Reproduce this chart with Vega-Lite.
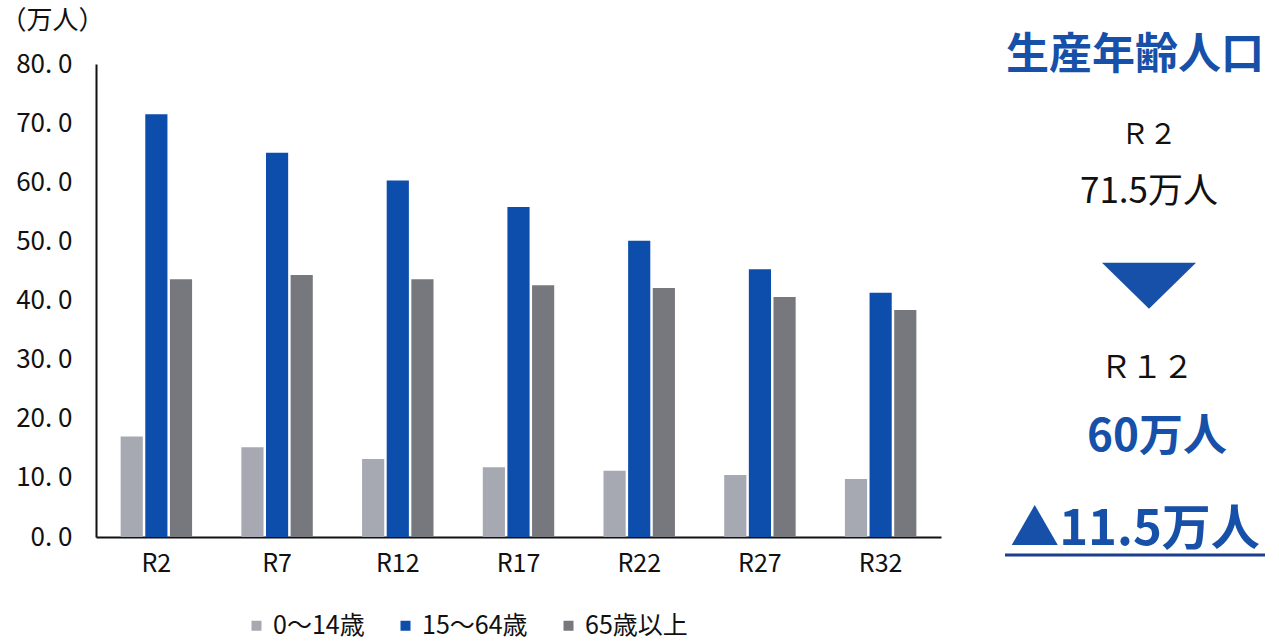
{
  "$schema": "https://vega.github.io/schema/vega-lite/v6.json",
  "background": "white",
  "padding": {"left": 0, "top": 7, "right": 5, "bottom": 3},
  "config": {"view": {"stroke": null}, "font": "Noto Sans CJK JP"},
  "spacing": 62,
  "datasets": {
    "pop": [
      {"year": "R2", "group": "0～14歳", "value": 17.0},
      {"year": "R2", "group": "15～64歳", "value": 71.5},
      {"year": "R2", "group": "65歳以上", "value": 43.6},
      {"year": "R7", "group": "0～14歳", "value": 15.2},
      {"year": "R7", "group": "15～64歳", "value": 65.0},
      {"year": "R7", "group": "65歳以上", "value": 44.3},
      {"year": "R12", "group": "0～14歳", "value": 13.2},
      {"year": "R12", "group": "15～64歳", "value": 60.3},
      {"year": "R12", "group": "65歳以上", "value": 43.6},
      {"year": "R17", "group": "0～14歳", "value": 11.8},
      {"year": "R17", "group": "15～64歳", "value": 55.8},
      {"year": "R17", "group": "65歳以上", "value": 42.6},
      {"year": "R22", "group": "0～14歳", "value": 11.2},
      {"year": "R22", "group": "15～64歳", "value": 50.1},
      {"year": "R22", "group": "65歳以上", "value": 42.1},
      {"year": "R27", "group": "0～14歳", "value": 10.5},
      {"year": "R27", "group": "15～64歳", "value": 45.3},
      {"year": "R27", "group": "65歳以上", "value": 40.6},
      {"year": "R32", "group": "0～14歳", "value": 9.8},
      {"year": "R32", "group": "15～64歳", "value": 41.3},
      {"year": "R32", "group": "65歳以上", "value": 38.4}
    ],
    "panel": [
      {"item": "title", "label": "生産年齢人口"},
      {"item": "r2", "label": "Ｒ２"},
      {"item": "v2", "label": "71.5万人"},
      {"item": "tri", "label": ""},
      {"item": "r12", "label": "Ｒ１２"},
      {"item": "v12", "label": "60万人"},
      {"item": "diff", "label": "▲11.5万人"},
      {"item": "line", "label": ""}
    ]
  },
  "hconcat": [
    {
      "width": 845,
      "height": 473,
      "data": {"name": "pop"},
      "mark": {"type": "bar"},
      "encoding": {
        "x": {
          "field": "year", "type": "nominal",
          "sort": ["R2", "R7", "R12", "R17", "R22", "R27", "R32"],
          "scale": {"paddingInner": 0, "paddingOuter": 0},
          "axis": {
            "title": null, "labelAngle": 0, "ticks": false,
            "labelFontSize": 25, "labelPadding": 14, "labelColor": "#111",
            "domainColor": "#111", "domainWidth": 2
          }
        },
        "xOffset": {
          "field": "group", "type": "nominal",
          "sort": ["0～14歳", "15～64歳", "65歳以上"],
          "scale": {"paddingInner": 0.1, "paddingOuter": 1.0}
        },
        "y": {
          "field": "value", "type": "quantitative",
          "scale": {"domain": [0, 80], "nice": false},
          "axis": {
            "values": [0, 10, 20, 30, 40, 50, 60, 70, 80],
            "labelExpr": "replace(format(datum.value, '.1f'), '.', '. ')",
            "grid": false, "ticks": false,
            "labelFontSize": 26, "labelPadding": 24, "labelColor": "#111",
            "domainColor": "#111", "domainWidth": 2,
            "title": "（万人）", "titleAngle": 0, "titleFontSize": 26,
            "titleFontWeight": "normal", "titleColor": "#111",
            "titleAlign": "left", "titleBaseline": "middle",
            "titleX": -96, "titleY": -44
          }
        },
        "color": {
          "field": "group", "type": "nominal",
          "scale": {
            "domain": ["0～14歳", "15～64歳", "65歳以上"],
            "range": ["#a6a9b1", "#0d4dab", "#77787d"]
          },
          "legend": {
            "title": null, "orient": "none", "direction": "horizontal",
            "legendX": 148, "legendY": 549,
            "symbolType": "square", "symbolSize": 100,
            "labelFontSize": 25, "labelColor": "#111",
            "columnPadding": 28, "labelOffset": 4
          }
        }
      }
    },
    {
      "width": 260,
      "height": 501,
      "data": {"name": "panel"},
      "encoding": {
        "y": {
          "field": "item", "type": "ordinal",
          "scale": {"type": "point", "padding": 0,
            "domain": ["title", "r2", "v2", "tri", "r12", "v12", "diff", "line"]},
          "axis": null
        }
      },
      "layer": [
        {
          "transform": [{"filter": "datum.item == 'title'"}],
          "mark": {"type": "text", "fontSize": 43, "fontWeight": "bold", "color": "#1650a8", "baseline": "middle", "dy": -8},
          "encoding": {"text": {"field": "label"}}
        },
        {
          "transform": [{"filter": "datum.item == 'r2'"}],
          "mark": {"type": "text", "fontSize": 28, "color": "#111", "baseline": "middle", "dx": 14, "dy": 0},
          "encoding": {"text": {"field": "label"}}
        },
        {
          "transform": [{"filter": "datum.item == 'r12'"}],
          "mark": {"type": "text", "fontSize": 31, "color": "#111", "baseline": "middle", "dx": 12, "dy": 19},
          "encoding": {"text": {"field": "label"}}
        },
        {
          "transform": [{"filter": "datum.item == 'v2'"}],
          "mark": {"type": "text", "fontSize": 35, "color": "#111", "baseline": "middle", "dx": 14, "dy": -15},
          "encoding": {"text": {"field": "label"}}
        },
        {
          "transform": [{"filter": "datum.item == 'tri'"}],
          "mark": {"type": "point", "filled": true, "color": "#1650a8", "opacity": 1,
            "shape": "M-1,-0.49L1,-0.49L0,0.49Z", "size": 8836, "xOffset": 14, "yOffset": 7},
          "encoding": {}
        },
        {
          "transform": [{"filter": "datum.item == 'v12'"}],
          "mark": {"type": "text", "fontSize": 44, "fontWeight": "bold", "color": "#1650a8", "baseline": "middle", "dx": 22, "dy": 16},
          "encoding": {"text": {"field": "label"}}
        },
        {
          "transform": [{"filter": "datum.item == 'diff'"}],
          "mark": {"type": "text", "fontSize": 49, "fontWeight": "bold", "color": "#1650a8", "baseline": "middle", "dy": 37},
          "encoding": {"text": {"field": "label"}}
        },
        {
          "transform": [{"filter": "datum.item == 'line'"}],
          "mark": {"type": "rule", "color": "#1a3f8f", "strokeWidth": 3, "yOffset": -10},
          "encoding": {}
        }
      ]
    }
  ]
}
